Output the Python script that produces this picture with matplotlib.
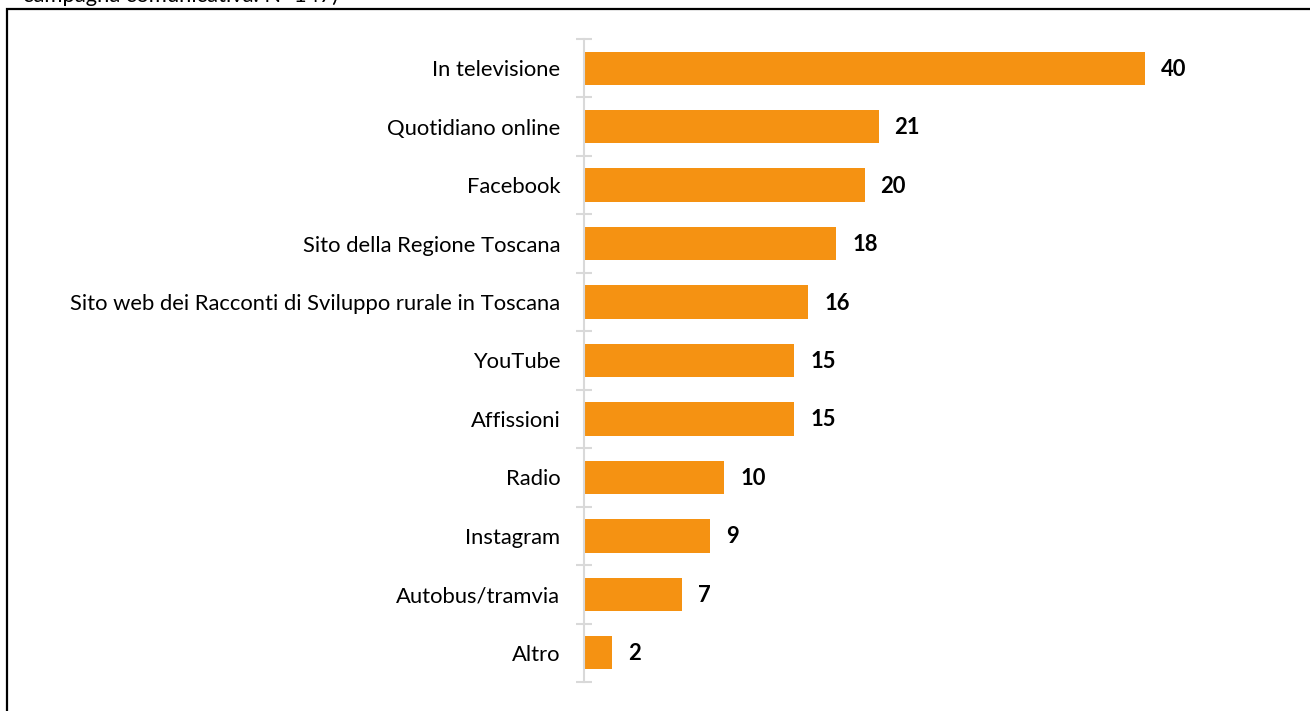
import matplotlib
matplotlib.use("Agg")
import matplotlib.pyplot as plt
from matplotlib.patches import Rectangle

categories = [
    "In televisione",
    "Quotidiano online",
    "Facebook",
    "Sito della Regione Toscana",
    "Sito web dei Racconti di Sviluppo rurale in Toscana",
    "YouTube",
    "Affissioni",
    "Radio",
    "Instagram",
    "Autobus/tramvia",
    "Altro",
]
values = [40, 21, 20, 18, 16, 15, 15, 10, 9, 7, 2]
note_text = "campagna comunicativa. N=147)"

BAR_COLOR = "#F59212"
AXIS_COLOR = "#D9D9D9"
FONT = ["Lato", "DejaVu Sans"]
FS = 15.8

W, H = 1310, 711
fig = plt.figure(figsize=(W / 100, H / 100), dpi=100)

# axes geometry in pixels
x0, x1 = 584, 1145
y_top, y_bot = 39, 682
ax = fig.add_axes([x0 / W, 1 - y_bot / H, (x1 - x0) / W, (y_bot - y_top) / H])

n = len(categories)
pos = list(range(n))
ax.barh(pos, values, height=0.57, color=BAR_COLOR, zorder=2)
ax.set_xlim(0, 40)
ax.set_ylim(n - 0.5, -0.5)

for p, v in zip(pos, values):
    ax.annotate(f"{v}", xy=(v, p), xytext=(16, -1), textcoords="offset pixels",
                ha="left", va="center", fontsize=FS, fontweight="bold",
                family=FONT, color="black", clip_on=False)

for side in ("top", "right", "bottom"):
    ax.spines[side].set_visible(False)
ax.spines["left"].set_color(AXIS_COLOR)
ax.spines["left"].set_linewidth(1.5)
ax.set_xticks([])

ax.set_yticks([i - 0.5 for i in range(n + 1)])
ax.set_yticklabels([])
ax.tick_params(axis="y", which="major", direction="inout", length=11,
               width=1.5, color=AXIS_COLOR)
ax.set_yticks(pos, minor=True)
ax.set_yticklabels(categories, minor=True, fontsize=FS, family=FONT,
                   color="black")
ax.tick_params(axis="y", which="minor", length=0, pad=17)

# frame around the chart and the wrapped caption line above it
fig.patches.append(Rectangle((7 / W, -0.1), 1.2, 1 - 9 / H + 0.1,
                             transform=fig.transFigure, fill=False,
                             edgecolor="black", linewidth=1.6, clip_on=False))
fig.text(23 / W, 1 - 2 / H, note_text, ha="left", va="baseline",
         fontsize=FS, family=FONT, color="black")

fig.savefig("out.png", dpi=100)
